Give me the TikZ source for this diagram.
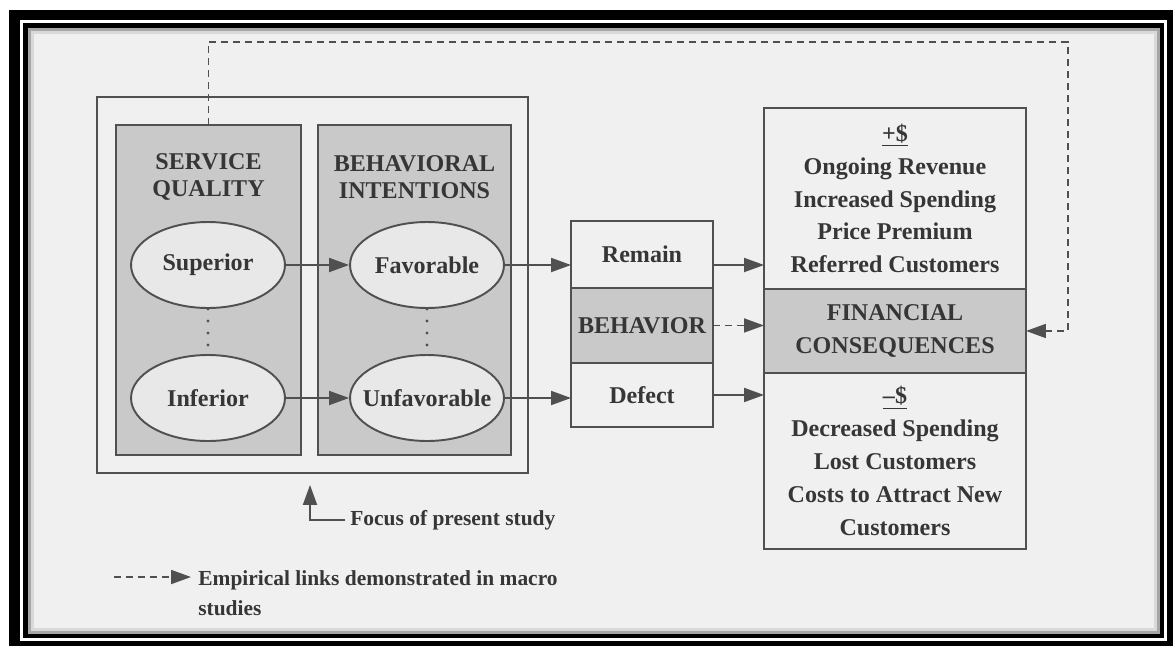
\documentclass[tikz,border=0pt]{standalone}
\usepackage{fontspec}
\setmainfont{Liberation Serif}
\usetikzlibrary{positioning, shapes.geometric, arrows.meta}
\definecolor{ink}{HTML}{363636}
\definecolor{paper}{HTML}{F0F0F0}
\definecolor{boxgray}{HTML}{C9C9C9}
\definecolor{ovalfill}{HTML}{E8E8E8}
\definecolor{edge}{HTML}{505050}

\begin{document}
\begin{tikzpicture}[x=0.02cm, y=-0.02cm, >={Triangle[length=0.4cm, width=0.28cm]},
	every node/.style={text=ink, font=\fontsize{13.7}{18.7}\selectfont\bfseries},
	cell/.style={draw=edge, line width=1.1pt, inner sep=0pt, outer sep=0pt, align=center},
	oval/.style={ellipse, draw=edge, line width=1.1pt, fill=ovalfill, minimum width=3.08cm, minimum height=1.72cm, inner xsep=-0.22cm, inner ysep=0pt},
	link/.style={->, draw=edge, line width=1.1pt},
	dashlink/.style={->, draw=edge, line width=1pt, dash pattern=on 0.14cm off 0.1cm},
	dotline/.style={draw=edge, line width=1.8pt, line cap=round, dash pattern=on 0pt off 0.24cm},
	small/.style={font=\fontsize{12.2}{17}\selectfont\bfseries, inner sep=0pt}]
	% frame
	\useasboundingbox (0,0) rectangle (1173,646);
	\fill[white] (0,0) rectangle (1173,646);
	\fill[black] (9,10) rectangle (1173,646);
	\fill[white] (20,20) rectangle (1167,641);
	\fill[black] (23,23) rectangle (1164,638);
	\fill[paper] (28,28) rectangle (1160,634);
	\draw[black!35, line width=0.06cm] (29.5,29.5) rectangle (1158.5,632.5);
	\draw[black!15, line width=0.06cm] (32.5,32.5) rectangle (1155.5,629.5);
	\draw[black!6, line width=0.06cm] (35.5,35.5) rectangle (1152.5,626.5);

	% focus of the study
	\node[cell, fill=paper, minimum width=8.62cm, minimum height=7.52cm] (focus) at (312.5,285) {};
	\node[cell, fill=boxgray, minimum width=3.7cm, minimum height=6.6cm] (sq) at (208.5,290) {};
	\node[cell, fill=boxgray, minimum width=3.86cm, minimum height=6.6cm] (bi) at (414.5,290) {};
	\node[align=center, font=\fontsize{13.7}{15.6}\selectfont\bfseries] (sqtitle) at (208.5,177) {SERVICE\\QUALITY};
	\node[align=center, font=\fontsize{13.7}{15.6}\selectfont\bfseries] (bititle) at (414.5,177) {BEHAVIORAL\\INTENTIONS};
	\node[oval] (sup) at (208,265) {Superior};
	\node[oval] (inf) at (208,398) {Inferior};
	\node[oval] (fav) at (427,265) {Favorable};
	\node[oval] (unf) at (427,398) {Unfavorable};
	\draw[dotline] (sup.south) -- (inf.north);
	\draw[dotline] (fav.south) -- (unf.north);

	% behavior
	\node[cell, fill=paper, minimum width=2.84cm, minimum height=1.34cm] (remain) at (642,254.5) {Remain};
	\node[cell, fill=boxgray, minimum width=2.84cm, minimum height=1.5cm, below=0pt of remain] (behav) {BEHAVIOR};
	\node[cell, fill=paper, minimum width=2.84cm, minimum height=1.28cm, below=0pt of behav] (defect) {Defect};

	% financial consequences
	\node[cell, fill=paper, minimum width=5.24cm, minimum height=3.62cm] (plus) at (895,198.5)
		{\underline{+\$}\\Ongoing Revenue\\Increased Spending\\Price Premium\\Referred Customers};
	\node[cell, fill=boxgray, minimum width=5.24cm, minimum height=1.68cm, below=0pt of plus] (fin) {FINANCIAL\\CONSEQUENCES};
	\node[cell, fill=paper, minimum width=5.24cm, minimum height=3.52cm, below=0pt of fin] (minus)
		{\underline{--\$}\\Decreased Spending\\Lost Customers\\Costs to Attract New\\Customers};

	% links
	\draw[link] (sup) -- (fav);
	\draw[link] (inf) -- (unf);
	\draw[link] (fav.east) -- (fav.east -| remain.west);
	\draw[link] (unf.east) -- (unf.east -| defect.west);
	\draw[link] (fav.east -| remain.east) -- (fav.east -| plus.west);
	\draw[link] (defect.east) -- (defect.east -| minus.west);
	\draw[dashlink] (behav.east) -- (behav.east -| fin.west);
	\coordinate (loop) at (1068,42);
	\draw[dashlink] (sq.north) |- (loop) |- (fin.east);

	% notes
	\node[small, anchor=west] (focustxt) at (350,520) {Focus of present study};
	\coordinate (fc) at (310,520);
	\draw[link, shorten <=0.1cm, shorten >=0.24cm] (focustxt.west) -| (focus.south -| fc);
	\node[small, anchor=north west, align=left] (legtxt) at (198,570) {Empirical links demonstrated in macro\\studies};
	\coordinate (lg) at (114,577);
	\draw[dashlink, shorten >=0.14cm] (lg) -- (lg -| legtxt.west);
\end{tikzpicture}
\end{document}
